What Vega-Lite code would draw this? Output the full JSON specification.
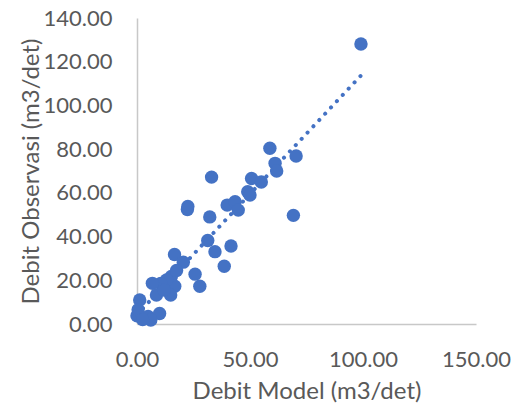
{
  "$schema": "https://vega.github.io/schema/vega-lite/v6.json",
  "width": 339,
  "height": 306,
  "autosize": "none",
  "padding": {"left": 137, "top": 18, "right": 43, "bottom": 86},
  "background": "white",
  "config": {
    "view": {"stroke": null},
    "font": "Lato",
    "axis": {"grid": false, "ticks": false, "labelFlush": false, "labelOverlap": false, "domainColor": "#c8c8c8", "domainWidth": 1.5, "labelColor": "#595959", "titleColor": "#595959", "labelFont": "Lato", "titleFont": "Lato", "labelFontSize": 22, "titleFontSize": 24, "titleFontWeight": "normal"}
  },
  "datasets": {
    "points": [
      {"model": 99.1, "obs": 128.1},
      {"model": 58.8, "obs": 80.4},
      {"model": 70.4, "obs": 76.9},
      {"model": 61.1, "obs": 73.5},
      {"model": 61.8, "obs": 70.0},
      {"model": 33.0, "obs": 67.2},
      {"model": 50.7, "obs": 66.6},
      {"model": 55.0, "obs": 65.0},
      {"model": 49.0, "obs": 60.5},
      {"model": 50.0, "obs": 59.0},
      {"model": 22.5, "obs": 53.8},
      {"model": 22.3, "obs": 52.4},
      {"model": 39.9, "obs": 54.4},
      {"model": 43.4, "obs": 55.9},
      {"model": 44.8, "obs": 52.1},
      {"model": 32.2, "obs": 49.0},
      {"model": 69.2, "obs": 49.7},
      {"model": 31.3, "obs": 38.2},
      {"model": 34.5, "obs": 33.1},
      {"model": 41.6, "obs": 35.7},
      {"model": 38.6, "obs": 26.4},
      {"model": 16.6, "obs": 31.8},
      {"model": 20.5, "obs": 28.3},
      {"model": 25.7, "obs": 22.8},
      {"model": 27.8, "obs": 17.3},
      {"model": 15.2, "obs": 21.7},
      {"model": 16.7, "obs": 17.3},
      {"model": 13.1, "obs": 20.1},
      {"model": 10.5, "obs": 18.5},
      {"model": 6.8, "obs": 18.6},
      {"model": 8.6, "obs": 13.3},
      {"model": 14.9, "obs": 13.3},
      {"model": 12.0, "obs": 15.5},
      {"model": 17.5, "obs": 24.5},
      {"model": 1.2, "obs": 11.0},
      {"model": 10.0, "obs": 4.8},
      {"model": 4.9, "obs": 3.4},
      {"model": 0.0, "obs": 3.8},
      {"model": 0.5, "obs": 6.5},
      {"model": 6.1, "obs": 1.8},
      {"model": 2.5, "obs": 2.0}
    ],
    "trend": [
      {"model": 0.0, "obs": 4.3},
      {"model": 99.1, "obs": 113.7}
    ]
  },
  "layer": [
    {
      "data": {"name": "trend"},
      "mark": {"type": "line", "color": "#4472C4", "strokeWidth": 4, "strokeCap": "round", "strokeDash": [0.1, 8.5]},
      "encoding": {
        "x": {"field": "model", "type": "quantitative"},
        "y": {"field": "obs", "type": "quantitative"}
      }
    },
    {
      "data": {"name": "points"},
      "mark": {"type": "point", "filled": true, "shape": "circle", "size": 180, "color": "#4472C4", "opacity": 1},
      "encoding": {
        "x": {"field": "model", "type": "quantitative", "scale": {"domain": [0, 150], "nice": false, "zero": true},
          "axis": {"values": [0, 50, 100, 150], "format": ".2f", "labelPadding": 25, "title": "Debit Model (m3/det)", "titleY": 67, "titleBaseline": "middle", "titleX": 169.5, "titleAlign": "center"}},
        "y": {"field": "obs", "type": "quantitative", "scale": {"domain": [0, 140], "nice": false},
          "axis": {"values": [0, 20, 40, 60, 80, 100, 120, 140], "format": ".2f", "labelPadding": 25, "title": "Debit Observasi (m3/det)", "titleX": -106, "titleY": 153, "titleBaseline": "middle", "titleAlign": "center", "titleAngle": -90}}
      }
    },
    {
      "mark": {"type": "text", "text": "R² = 0.8628", "font": "Lato", "fontSize": 22, "color": "#595959", "align": "left", "baseline": "middle"},
      "encoding": {
        "x": {"datum": 19},
        "y": {"datum": 118.5}
      }
    }
  ]
}
